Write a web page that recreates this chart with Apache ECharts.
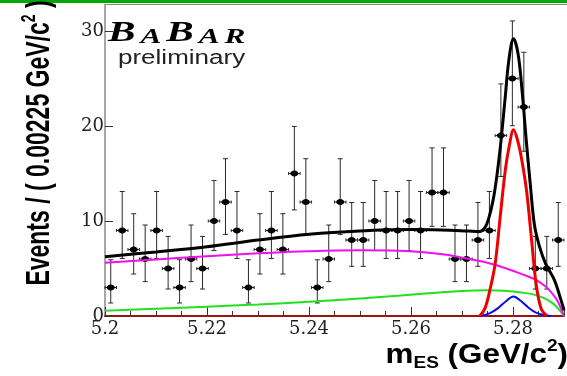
<!DOCTYPE html>
<html>
<head>
<meta charset="utf-8">
<script src="https://cdn.jsdelivr.net/npm/echarts@6/dist/echarts.min.js"></script>
<style>
html, body { margin: 0; padding: 0; background: #fff; }
#chart { width: 567px; height: 376px; }
</style>
</head>
<body>
<div id="chart"></div>
<script>
// m_ES distribution: 40 bins of 2.25 MeV/c^2 from 5.200 to 5.290 GeV/c^2
const binLow = 5.2;
const binWidth = 0.00225;
const xTicks = [5.2, 5.22, 5.24, 5.26, 5.28];
const yTicks = [0, 10, 20, 30];

// events per bin
const counts = [3, 9, 7, 6, 9, 5, 3, 6, 5, 10,
                12, 9, 3, 7, 9, 7, 15, 12, 3, 6,
                12, 8, 8, 10, 9, 9, 10, 9, 13, 13,
                6, 6, 8, 9, 19, 25, 22, 5, 5, 8];
// lower / upper ends of the (asymmetric) error bars
const errLow = [1.37, 6.06, 4.42, 3.62, 6.06, 2.84, 1.37, 3.62, 2.84, 6.89,
                8.59, 6.06, 1.37, 4.42, 6.06, 4.42, 11.17, 8.59, 1.37, 3.62,
                8.59, 5.23, 5.23, 6.89, 6.06, 6.06, 6.89, 6.06, 9.44, 9.44,
                3.62, 3.62, 5.23, 6.06, 14.69, 20.04, 17.35, 2.84, 2.84, 5.23];
const errHigh = [5.92, 13.11, 10.77, 9.58, 13.11, 8.38, 5.92, 9.58, 8.38, 14.27,
                 16.56, 13.11, 5.92, 10.77, 13.11, 10.77, 19.96, 16.56, 5.92, 9.58,
                 16.56, 11.95, 11.95, 14.27, 13.11, 13.11, 14.27, 13.11, 17.70, 17.70,
                 9.58, 9.58, 11.95, 13.11, 24.44, 31.07, 27.77, 8.38, 8.38, 11.95];

// fit components (magenta: continuum, green: B-background, red: signal, blue: peaking, black: total)
const contX = [5.200, 5.210, 5.220, 5.230, 5.240, 5.250, 5.256, 5.262, 5.267, 5.271, 5.275, 5.279, 5.282, 5.2845, 5.2865, 5.2878, 5.2887, 5.2894, 5.2900];
const contY = [5.6, 5.95, 6.3, 6.6, 6.82, 6.92, 6.9, 6.75, 6.45, 6.05, 5.6, 4.95, 4.35, 3.8, 3.05, 2.3, 1.6, 0.8, 0];
const bbX = [5.200, 5.210, 5.220, 5.230, 5.240, 5.250, 5.258, 5.264, 5.270, 5.275, 5.279, 5.282, 5.2845, 5.2866, 5.2880, 5.2890, 5.2900];
const bbY = [0.56, 0.77, 0.98, 1.22, 1.5, 1.85, 2.15, 2.42, 2.64, 2.7, 2.62, 2.45, 2.2, 1.75, 1.25, 0.7, 0];
const sigX = [5.2735, 5.2745, 5.2755, 5.2765, 5.2775, 5.2785, 5.2793, 5.2801, 5.2809, 5.2817, 5.2827, 5.2837, 5.2845, 5.2855, 5.2867];
const sigY = [0, 0.8, 2.8, 5.5, 10.5, 15.4, 18.0, 19.6, 18.5, 16.5, 13.0, 7.7, 3.5, 0.8, 0];
const peakX = [5.2735, 5.2755, 5.2770, 5.2785, 5.2801, 5.2815, 5.2830, 5.2845, 5.2865, 5.2875];
const peakY = [0, 0.3, 0.8, 1.5, 2.05, 1.6, 0.9, 0.35, 0.05, 0];
const totX = [5.200, 5.210, 5.220, 5.230, 5.240, 5.250, 5.260, 5.266, 5.2712, 5.2735, 5.2745, 5.2752, 5.2761, 5.2768, 5.2776, 5.2784, 5.2792, 5.2801, 5.2810, 5.2818, 5.2826, 5.2834, 5.2842, 5.2852, 5.2864, 5.2881, 5.2894, 5.2900];
const totY = [6.25, 6.75, 7.3, 8.0, 8.6, 8.95, 9.1, 9.05, 8.95, 8.9, 9.3, 10.2, 12.2, 14.6, 18.2, 22.6, 27.0, 29.2, 27.6, 23.6, 18.5, 13.8, 9.6, 7.3, 5.5, 3.8, 1.7, 0.6];

const zip = (xs, ys) => xs.map((x, i) => [x, ys[i]]);
const onTick = (v, ticks) => ticks.some(t => Math.abs(t - v) < 1e-6);

const chart = echarts.init(document.getElementById('chart'), null, { renderer: 'canvas' });

function curve(xs, ys, color, width, z) {
  return {
    type: 'line', data: zip(xs, ys), showSymbol: false, smooth: 0.35,
    lineStyle: { color: color, width: width }, z: z, silent: true
  };
}

const logoBig = { font: 'bold italic 29px "Liberation Serif"', fill: '#000', verticalAlign: 'bottom', padding: [0, 3.5, 0, 0] };
const logoSmall = { font: 'bold italic 22px "Liberation Serif"', fill: '#000', verticalAlign: 'bottom', padding: [0, 3.5, 0, 0] };

const option = {
  animation: false,
  backgroundColor: '#fff',
  grid: { left: 105, right: -2, top: 4.5, bottom: 60 },
  xAxis: {
    type: 'value', min: 5.2, max: 5.29, interval: 0.02,
    axisLine: { lineStyle: { color: '#9a1414', width: 2 } },
    axisTick: { inside: true, length: 9, lineStyle: { color: '#333' } },
    minorTick: { show: true, splitNumber: 4, length: 5, lineStyle: { color: '#333' } },
    splitLine: { show: false },
    axisLabel: {
      margin: 4, color: '#222', fontFamily: 'DejaVu Serif', fontSize: 18,
      formatter: v => onTick(v, xTicks) ? String(Math.round(v * 100) / 100) : ''
    }
  },
  yAxis: {
    type: 'value', min: 0, max: 32.8, interval: 10,
    axisLine: { show: true, lineStyle: { color: '#8a8a8a', width: 1.5 } },
    axisTick: { show: true, inside: true, length: 8, lineStyle: { color: '#333' } },
    splitLine: { show: false },
    axisLabel: {
      margin: 1, color: '#222', fontFamily: 'DejaVu Serif', fontSize: 18,
      formatter: v => onTick(v, yTicks) ? String(v) : ''
    }
  },
  graphic: [
    { type: 'rect', shape: { x: 0, y: 0, width: 567, height: 3 }, style: { fill: '#00a800' }, z: 100 },
    { type: 'line', shape: { x1: 105, y1: 4.5, x2: 567, y2: 4.5 }, style: { stroke: '#8a8a8a', lineWidth: 1 }, z: 100 },
    {
      type: 'text', x: 108, y: 48, scaleX: 1.42, z: 100,
      style: {
        text: '{b|B}{s|A}{b|B}{s|A}{s|R}', verticalAlign: 'bottom', textAlign: 'left',
        rich: { b: logoBig, s: logoSmall }
      }
    },
    {
      type: 'text', x: 118, y: 58, scaleX: 1.3, z: 100,
      style: { text: 'preliminary', font: '20px "Liberation Sans"', fill: '#222', verticalAlign: 'middle', textAlign: 'left' }
    },
    {
      type: 'text', x: 40, y: 143, rotation: Math.PI / 2, scaleY: 1.45, z: 100,
      style: {
        text: '{m|Events / ( 0.00225 GeV/c}{sup|2}{m| )}', textAlign: 'center', verticalAlign: 'middle',
        rich: {
          m: { font: 'bold 23px "Liberation Sans"', fill: '#000', lineHeight: 28 },
          sup: { font: 'bold 14px "Liberation Sans"', fill: '#000', lineHeight: 12, verticalAlign: 'top' }
        }
      }
    },
    {
      type: 'text', x: 568, y: 372, scaleX: 1.12, z: 100,
      style: {
        text: '{m|m}{sub|ES}{m| (GeV/c}{sup|2}{m|)}', textAlign: 'right', verticalAlign: 'bottom',
        rich: {
          m: { font: 'bold 28px "Liberation Sans"', fill: '#000', lineHeight: 34 },
          sub: { font: 'bold 17px "Liberation Sans"', fill: '#000', lineHeight: 14, verticalAlign: 'bottom' },
          sup: { font: 'bold 17px "Liberation Sans"', fill: '#000', lineHeight: 14, verticalAlign: 'top' }
        }
      }
    }
  ],
  series: [
    {
      type: 'custom', z: 3, silent: true,
      data: counts.map((n, i) => [binLow + binWidth * (i + 0.5), n, errLow[i], errHigh[i]]),
      renderItem: (params, api) => {
        const x = api.value(0), y = api.value(1);
        const c = api.coord([x, y]);
        const lo = api.coord([x, api.value(2)]);
        const hi = api.coord([x, api.value(3)]);
        const l = api.coord([x - binWidth / 2, y]);
        const r = api.coord([x + binWidth / 2, y]);
        const st = { stroke: '#2a2a2a', lineWidth: 1 };
        const seg = (x1, y1, x2, y2) => ({ type: 'line', shape: { x1, y1, x2, y2 }, style: st });
        return {
          type: 'group',
          children: [
            seg(c[0], hi[1], c[0], lo[1]),
            seg(c[0] - 2.5, hi[1], c[0] + 2.5, hi[1]),
            seg(c[0] - 2.5, lo[1], c[0] + 2.5, lo[1]),
            seg(l[0], c[1], r[0], c[1]),
            seg(l[0], c[1] - 1.5, l[0], c[1] + 1.5),
            seg(r[0], c[1] - 1.5, r[0], c[1] + 1.5),
            { type: 'ellipse', shape: { cx: c[0], cy: c[1], rx: 4, ry: 3 }, style: { fill: '#000' } }
          ]
        };
      }
    },
    curve(bbX, bbY, '#22e022', 2, 4),
    curve(contX, contY, '#ee10ee', 2, 4),
    curve(peakX, peakY, '#0a0ae6', 2, 5),
    curve(sigX, sigY, '#ee0000', 3, 6),
    curve(totX, totY, '#000000', 3, 7)
  ]
};

chart.setOption(option);
</script>
</body>
</html>
